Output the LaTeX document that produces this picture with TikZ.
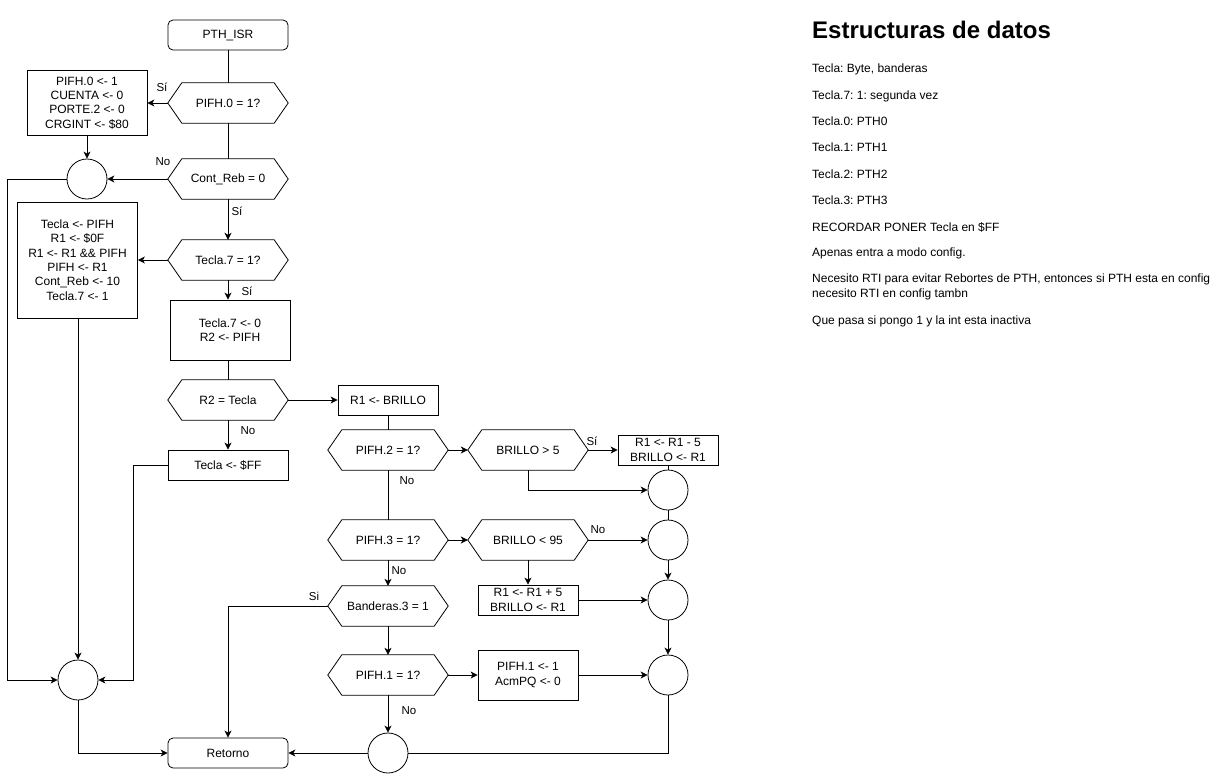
\documentclass[tikz,border=0pt]{standalone}
\usepackage{fontspec}
\setmainfont{Liberation Sans}
\usetikzlibrary{arrows.meta,calc}
\frenchspacing
\tikzset{
  every node/.style={font=\fontsize{12}{14.4}\selectfont},
  ln/.style={line width=0.8pt},
  arr/.style={ln,-{Stealth[length=7pt,width=7pt,inset=2pt]}},
  box/.style={draw,ln,rectangle,inner sep=0pt,align=center},
  rbox/.style={box,rounded corners=5pt},
  hexl/.style={rectangle,inner sep=0pt,minimum width=120pt,minimum height=40pt,align=center},
  circ/.style={draw,ln,circle,minimum size=40pt,inner sep=0pt},
  lbl/.style={inner sep=0pt,font=\fontsize{11.5}{13}\selectfont},
  note/.style={inner sep=0pt,anchor=base west,font=\fontsize{12}{14.6}\selectfont},
}
\newcommand\hexa[3]{%
  \node[hexl] (#1) at (#2) {#3};
  \draw[ln] (#1.west) -- ([xshift=14pt]#1.north west) -- ([xshift=-14pt]#1.north east)
    -- (#1.east) -- ([xshift=-14pt]#1.south east) -- ([xshift=14pt]#1.south west) -- cycle;}
\begin{document}
\begin{tikzpicture}[x=1pt,y=-1pt]
\useasboundingbox (0,0) rectangle (1228,774);

% left column
\node[rbox,minimum width=120pt,minimum height=30pt] (isr) at (228,35) {PTH\_ISR};
\hexa{d1}{228,103}{PIFH.0 = 1?}
\node[box,minimum width=120pt,minimum height=65pt] (b1) at (87,103)
  {PIFH.0 <- 1\\CUENTA <- 0\\PORTE.2 <- 0\\CRGINT <- \$80};
\node[circ] (c1) at (87,179) {};
\hexa{d2}{228,179}{Cont\_Reb = 0}
\node[box,minimum width=120pt,minimum height=116pt] (b2) at (77.5,260)
  {Tecla <- PIFH\\R1 <- \$0F\\R1 <- R1 \&\& PIFH\\PIFH <- R1\\Cont\_Reb <- 10\\Tecla.7 <- 1};
\hexa{d3}{228,260}{Tecla.7 = 1?}
\node[box,minimum width=120pt,minimum height=60pt] (b3) at (230,330) {Tecla.7 <- 0\\R2 <- PIFH};
\hexa{d4}{228,400}{R2 = Tecla}
\node[box,minimum width=120pt,minimum height=30pt] (tf) at (228,465) {Tecla <- \$FF};
\node[circ] (c7) at (78,680) {};
\node[rbox,minimum width=120pt,minimum height=30pt] (ret) at (228,753) {Retorno};

% middle column
\node[box,minimum width=100pt,minimum height=30pt] (r1) at (388,400) {R1 <- BRILLO};
\hexa{d5}{388,450}{PIFH.2 = 1?}
\hexa{d7}{388,540}{PIFH.3 = 1?}
\hexa{d9}{388,606}{Banderas.3 = 1}
\hexa{d10}{388,675}{PIFH.1 = 1?}
\node[circ] (c6) at (388,753) {};

% right part
\hexa{d6}{528,450}{BRILLO > 5}
\node[box,minimum width=100pt,minimum height=30pt] (bm) at (668,450) {R1 <- R1 - 5\\BRILLO <- R1};
\node[circ] (c2) at (668,490) {};
\hexa{d8}{528,540}{BRILLO < 95}
\node[circ] (c3) at (668,540) {};
\node[box,minimum width=100pt,minimum height=30pt] (bp) at (528,600) {R1 <- R1 + 5\\BRILLO <- R1};
\node[circ] (c4) at (668,600) {};
\node[box,minimum width=100pt,minimum height=50pt] (bq) at (528,675) {PIFH.1 <- 1\\AcmPQ <- 0};
\node[circ] (c5) at (668,675) {};

\coordinate (k1) at (7,680);
\coordinate (k2) at (133,680);

% connectors
\draw[ln] (isr.south) -- (d1.north);
\draw[arr] (d1.west) -- (b1.east);
\draw[ln] (d1.south) -- (d2.north);
\draw[arr] (b1.south) -- (c1.north);
\draw[arr] (d2.west) -- (c1.east);
\draw[arr] (c1.west) -- (c1.west -| k1) |- (c7.west);
\draw[arr] (d2.south) -- (d3.north);
\draw[arr] (d3.west) -- (b2.east);
\draw[arr] (d3.south) -- (d3.south |- b3.north);
\draw[ln] (b3.south -| d4.north) -- (d4.north);
\draw[arr] (d4.east) -- (r1.west);
\draw[arr] (d4.south) -- (tf.north);
\draw[arr] (tf.west) -- (tf.west -| k2) |- (c7.east);
\draw[arr] (b2.south -| c7.north) -- (c7.north);
\draw[arr] (c7.south) |- (ret.west);
\draw[ln] (r1.south) -- (d5.north);
\draw[arr] (d5.east) -- (d6.west);
\draw[arr] (d6.east) -- (bm.west);
\draw[ln] (bm.south) -- (c2.north);
\draw[arr] (d6.south) |- (c2.west);
\draw[ln] (d5.south) -- (d7.north);
\draw[arr] (d7.east) -- (d8.west);
\draw[arr] (d8.east) -- (c3.west);
\draw[ln] (c2.south) -- (c3.north);
\draw[arr] (d8.south) -- (bp.north);
\draw[arr] (bp.east) -- (c4.west);
\draw[arr] (c3.south) -- (c4.north);
\draw[arr] (d7.south) -- (d9.north);
\draw[arr] (d9.west) -| (ret.north);
\draw[arr] (d9.south) -- (d10.north);
\draw[arr] (d10.east) -- (bq.west);
\draw[arr] (bq.east) -- (c5.west);
\draw[arr] (c4.south) -- (c5.north);
\draw[arr] (d10.south) -- (c6.north);
\draw[ln] (c5.south) |- (c6.east);
\draw[arr] (c6.west) -- (ret.east);

% edge labels
\node[lbl] (l1) at (162,87) {Sí};
\node[lbl] (l2) at (163,162) {No};
\node[lbl] (l3) at (237,211) {Sí};
\node[lbl] (l4) at (247,291) {Sí};
\node[lbl] (l5) at (248,431) {No};
\node[lbl] (l6) at (407,481) {No};
\node[lbl] (l7) at (592,441) {Sí};
\node[lbl] (l8) at (598,530) {No};
\node[lbl] (l9) at (399,571) {No};
\node[lbl] (l10) at (314,596) {Si};
\node[lbl] (l11) at (409,711) {No};

% notes
\node[note,font=\fontsize{24}{28}\selectfont\bfseries] (t0) at (812,38.3) {Estructuras de datos};
\node[note] (t1) at (812,72.7) {Tecla: Byte, banderas};
\node[note] (t2) at (812,99.3) {Tecla.7: 1: segunda vez};
\node[note] (t3) at (812,125.3) {Tecla.0: PTH0};
\node[note] (t4) at (812,151.7) {Tecla.1: PTH1};
\node[note] (t5) at (812,178.3) {Tecla.2: PTH2};
\node[note] (t6) at (812,204.3) {Tecla.3: PTH3};
\node[note] (t7) at (812,231) {RECORDAR PONER Tecla en \$FF};
\node[note] (t8) at (812,256.7) {Apenas entra a modo config.};
\node[note] (t9) at (812,282.7) {Necesito RTI para evitar Rebortes de PTH, entonces si PTH esta en config};
\node[note] (t9b) at (812,297.3) {necesito RTI en config tambn};
\node[note] (t10) at (812,324.3) {Que pasa si pongo 1 y la int esta inactiva};
\end{tikzpicture}
\end{document}
